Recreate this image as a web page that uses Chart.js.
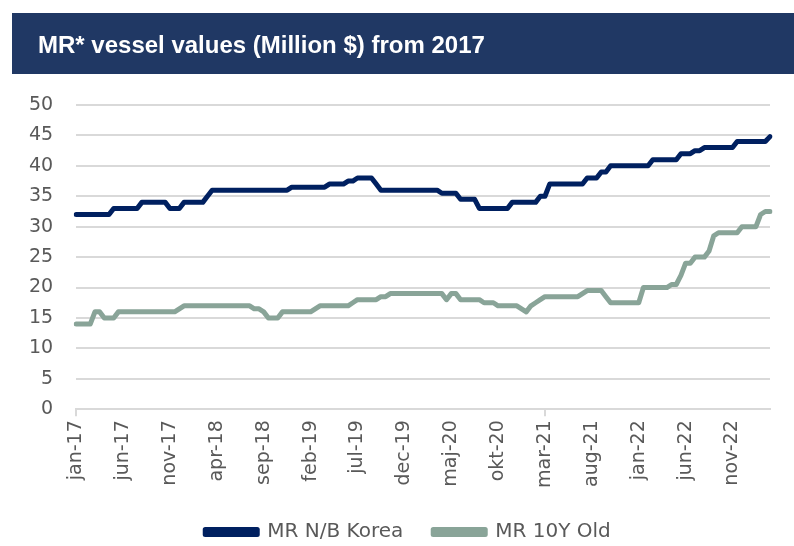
<!DOCTYPE html>
<html>
<head>
<meta charset="utf-8">
<script src="https://cdn.jsdelivr.net/npm/chart.js@4.4.0/dist/chart.umd.min.js"></script>
<style>
  html, body { margin: 0; padding: 0; background: #fff; }
  #wrap { position: relative; width: 794px; height: 546px; overflow: hidden; }
  #titlebar { position: absolute; left: 12px; top: 13px; width: 782px; height: 61px; background: #203864; }
  #titlebar span { position: absolute; left: 26px; top: 1px; line-height: 61px; color: #fff;
    font-family: "Liberation Sans", Arial, sans-serif; font-weight: bold; font-size: 24px; white-space: nowrap; }
  #chart { position: absolute; left: 0; top: 0; }
</style>
</head>
<body>
<div id="wrap">
  <canvas id="chart" width="794" height="546"></canvas>
  <div id="titlebar"><span>MR* vessel values (Million $) from 2017</span></div>
</div>
<script>
// half-month readings, jan-17 .. feb-23
const koreaValues = [
  32,32,32,32,32,32,32,32,33,33,
  33,33,33,33,34,34,34,34,34,34,
  33,33,33,34,34,34,34,34,35,36,
  36,36,36,36,36,36,36,36,36,36,
  36,36,36,36,36,36,36.5,36.5,36.5,36.5,
  36.5,36.5,36.5,36.5,37,37,37,37,37.5,37.5,
  38,38,38,38,37,36,36,36,36,36,
  36,36,36,36,36,36,36,36,35.5,35.5,
  35.5,35.5,34.5,34.5,34.5,34.5,33,33,33,33,
  33,33,33,34,34,34,34,34,34,35,
  35,37,37,37,37,37,37,37,37,38,
  38,38,39,39,40,40,40,40,40,40,
  40,40,40,41,41,41,41,41,41,42,
  42,42,42.5,42.5,43,43,43,43,43,43,
  43,44,44,44,44,44,44,44,44.8
];
const oldValues = [
  14,14,14,14,16,16,15,15,15,16,
  16,16,16,16,16,16,16,16,16,16,
  16,16,16.5,17,17,17,17,17,17,17,
  17,17,17,17,17,17,17,17,16.5,16.5,
  16,15,15,15,16,16,16,16,16,16,
  16,16.5,17,17,17,17,17,17,17,17.5,
  18,18,18,18,18,18.5,18.5,19,19,19,
  19,19,19,19,19,19,19,19,19,18,
  19,19,18,18,18,18,18,17.5,17.5,17.5,
  17,17,17,17,17,16.5,16,17,17.5,18,
  18.5,18.5,18.5,18.5,18.5,18.5,18.5,18.5,19,19.5,
  19.5,19.5,19.5,18.5,17.5,17.5,17.5,17.5,17.5,17.5,
  17.5,20,20,20,20,20,20,20.5,20.5,22,
  24,24,25,25,25,26,28.5,29,29,29,
  29,29,30,30,30,30,32,32.5,32.5
];
const tickLabels = ['jan-17','jun-17','nov-17','apr-18','sep-18','feb-19','jul-19','dec-19',
  'maj-20','okt-20','mar-21','aug-21','jan-22','jun-22','nov-22'];
const monthNames = ['jan','feb','mar','apr','maj','jun','jul','aug','sep','okt','nov','dec'];

var periods = [];
for (let i = 0; i < koreaValues.length; i++) {
  let m = Math.floor(i / 2);
  periods.push(monthNames[m % 12] + '-' + (17 + Math.floor(m / 12)) + (i % 2 ? ' b' : ' a'));
}

var gray = '#d9d9d9';
var textGray = '#595959';

// legend sits a bit right of the canvas centre in the original
var legendShift = {
  id: 'legendShift',
  afterLayout: function(chart) {
    chart.legend.left += 20;
    chart.legend.right += 20;
  }
};

var ctx = document.getElementById('chart').getContext('2d');
var myChart = new Chart(ctx, {
  type: 'line',
  data: {
    labels: periods,
    datasets: [{
      label: 'MR N/B Korea',
      data: koreaValues,
      borderColor: '#002060',
      backgroundColor: '#002060',
      borderWidth: 5,
      pointRadius: 0,
      borderCapStyle: 'round',
      borderJoinStyle: 'round',
      tension: 0
    }, {
      label: 'MR 10Y Old',
      data: oldValues,
      borderColor: '#89a498',
      backgroundColor: '#89a498',
      borderWidth: 5,
      pointRadius: 0,
      borderCapStyle: 'round',
      borderJoinStyle: 'round',
      tension: 0
    }]
  },
  options: {
    responsive: false,
    animation: false,
    layout: { padding: { top: 105, left: 6, right: 24, bottom: -6 } },
    scales: {
      x: {
        type: 'category',
        offset: false,
        grid: {
          drawOnChartArea: false,
          tickLength: 7,
          lineWidth: 2,
          color: function(c) { return c.index % 10 === 0 ? gray : 'rgba(0,0,0,0)'; }
        },
        border: { display: true, color: gray, width: 2 },
        ticks: {
          autoSkip: false,
          maxRotation: 90,
          minRotation: 90,
          padding: 4,
          color: textGray,
          font: { family: 'DejaVu Sans', size: 19 },
          callback: function(val, i) {
            return (i % 10 === 0 && tickLabels[i / 10]) ? tickLabels[i / 10] : null;
          }
        }
      },
      y: {
        min: 0,
        max: 50,
        ticks: {
          stepSize: 5,
          padding: 23,
          color: textGray,
          font: { family: 'DejaVu Sans', size: 19 }
        },
        grid: { color: gray, lineWidth: 2, drawTicks: false },
        border: { display: false }
      }
    },
    plugins: {
      legend: {
        position: 'bottom',
        labels: {
          boxWidth: 52,
          boxHeight: 5,
          padding: 30,
          color: textGray,
          font: { family: 'DejaVu Sans', size: 20 }
        }
      },
      tooltip: { enabled: false },
      title: { display: false }
    }
  },
  plugins: [legendShift]
});
</script>
</body>
</html>
